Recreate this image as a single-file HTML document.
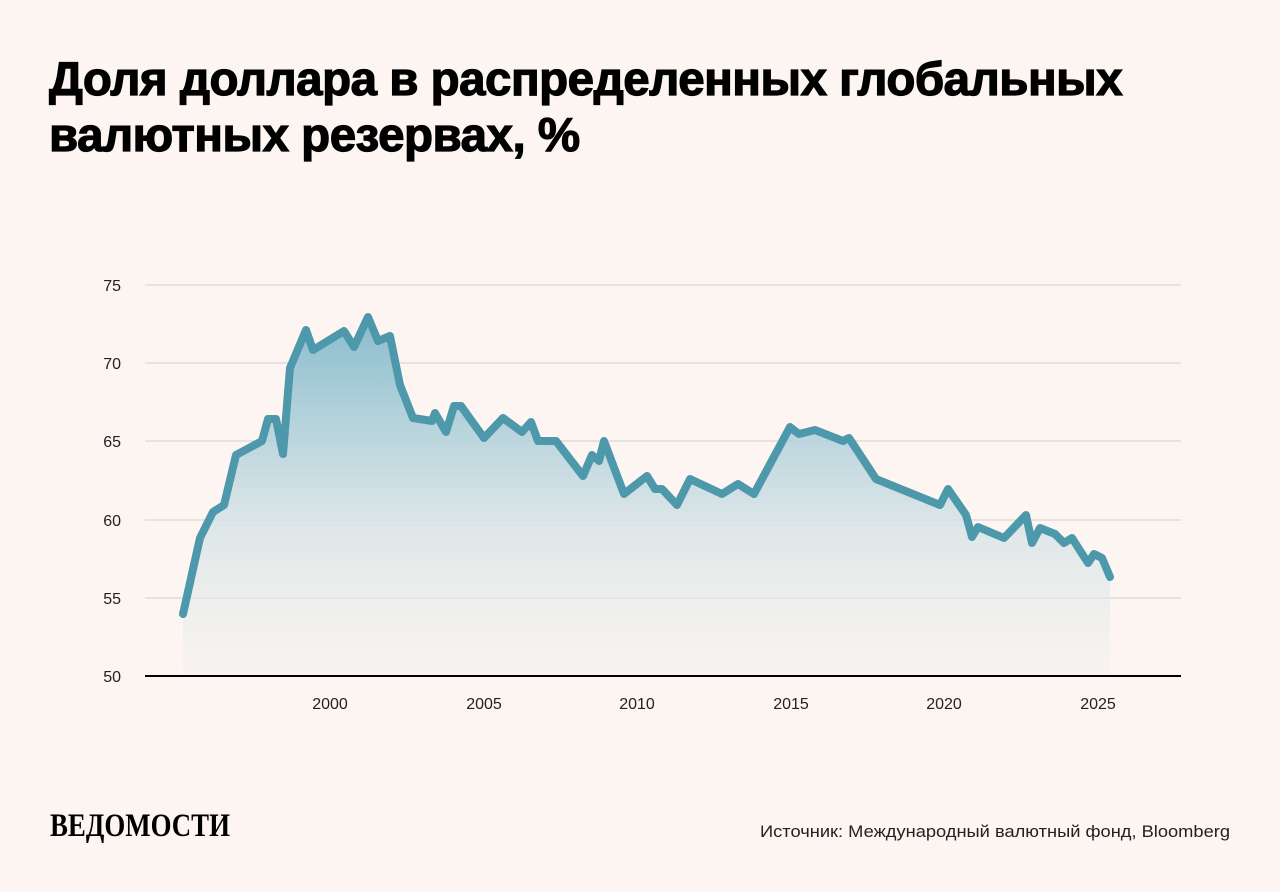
<!DOCTYPE html>
<html><head><meta charset="utf-8"><style>
body{margin:0;width:1280px;height:892px;background:#fcf5f1;overflow:hidden;font-family:"Liberation Sans","DejaVu Sans",sans-serif}
h1{position:absolute;left:49px;top:52px;margin:0;font-size:47.5px;line-height:56px;font-weight:900;letter-spacing:-0.5px;color:#000;-webkit-text-stroke:1.2px #000}
</style></head><body>
<h1>Доля доллара в распределенных глобальных<br>валютных резервах, %</h1>
<svg width="1280" height="892" style="position:absolute;left:0;top:0">
<defs><linearGradient id="g" gradientUnits="userSpaceOnUse" x1="0" y1="310" x2="0" y2="676"><stop offset="0" stop-color="#7fb7cb" stop-opacity="0.95"/><stop offset="0.6" stop-color="#d6e3e6" stop-opacity="0.8"/><stop offset="1" stop-color="#f3f1ef" stop-opacity="0.4"/></linearGradient></defs>
<g stroke="#cfcfcf" stroke-width="1">
<line x1="145" x2="1181" y1="285" y2="285"/><line x1="145" x2="1181" y1="363" y2="363"/><line x1="145" x2="1181" y1="441" y2="441"/><line x1="145" x2="1181" y1="520" y2="520"/><line x1="145" x2="1181" y1="598" y2="598"/></g>
<path fill="url(#g)" d="M183,614 L200,538 213,512 224,505 236,455 262,441 268,419 276,419 283,454 290,368 306,330 313,350 344,331 354,347 368,317 378,341 390,336 400,385 413,418 432,421 435,413 446,432 454,406 461,406 484,438 503,418 522,432 531,422 538,441 556,441 583,476 592,455 599,461 604,441 624,494 647,476 655,489 662,489 677,505 690,479 722,494 738,484 754,494 790,427 799,434 815,430 843,441 849,438 876,479 940,505 948,489 966,515 972,537 978,527 1004,538 1026,515 1032,543 1040,528 1055,534 1064,543 1072,538 1088,563 1094,554 1102,558 1110,577 L1110,675 L183,675 Z"/>
<line x1="145" x2="1181" y1="676" y2="676" stroke="#000" stroke-width="2"/>
<g font-size="16" fill="#222" text-anchor="end"><text x="121" y="291">75</text><text x="121" y="369">70</text><text x="121" y="447">65</text><text x="121" y="526">60</text><text x="121" y="604">55</text><text x="121" y="682">50</text></g>
<g font-size="16" fill="#222" text-anchor="middle"><text x="330" y="709">2000</text><text x="484" y="709">2005</text><text x="637" y="709">2010</text><text x="791" y="709">2015</text><text x="944" y="709">2020</text><text x="1098" y="709">2025</text></g>
<polyline fill="none" stroke="#4e98ab" stroke-width="8" stroke-linejoin="round" stroke-linecap="round" points="183,614 200,538 213,512 224,505 236,455 262,441 268,419 276,419 283,454 290,368 306,330 313,350 344,331 354,347 368,317 378,341 390,336 400,385 413,418 432,421 435,413 446,432 454,406 461,406 484,438 503,418 522,432 531,422 538,441 556,441 583,476 592,455 599,461 604,441 624,494 647,476 655,489 662,489 677,505 690,479 722,494 738,484 754,494 790,427 799,434 815,430 843,441 849,438 876,479 940,505 948,489 966,515 972,537 978,527 1004,538 1026,515 1032,543 1040,528 1055,534 1064,543 1072,538 1088,563 1094,554 1102,558 1110,577"/>
<text x="50" y="836" font-family="Liberation Serif,serif" font-weight="bold" font-size="33" fill="#000" textLength="180" lengthAdjust="spacingAndGlyphs">ВЕДОМОСТИ</text>
<text x="760" y="837" font-size="17" fill="#222" textLength="470" lengthAdjust="spacingAndGlyphs">Источник: Международный валютный фонд, Bloomberg</text>
</svg>
</body></html>
